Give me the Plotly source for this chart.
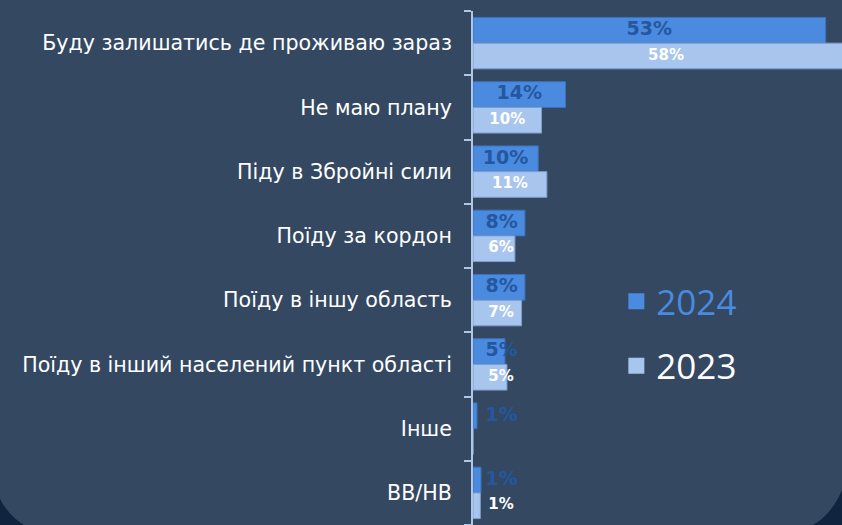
import plotly.graph_objects as go

categories = [
    "Буду залишатись де проживаю зараз",
    "Не маю плану",
    "Піду в Збройні сили",
    "Поїду за кордон",
    "Поїду в іншу область",
    "Поїду в інший населений пункт області",
    "Інше",
    "ВВ/НВ",
]
values_2024 = [53, 13.9, 9.8, 7.8, 7.8, 4.8, 0.6, 1.2]
values_2023 = [58, 10.3, 11.1, 6.3, 7.3, 5.1, 0, 1.1]
series_names = ["2024", "2023"]

W, H = 842, 525
ML, MR, MT, MB = 473, 0, 11, 0
XMAX = 55.45

BG = "#344862"
DARK = "#10233F"
C2024 = "#4A8ADF"
C2023 = "#A8C5EE"
LBL2024 = "#25579F"
AXIS = "#AFC6E6"

pos = list(range(len(categories)))

def lbl(v):
    return f"{round(v)}%" if v > 0 else ""

fig = go.Figure()
fig.add_trace(go.Bar(
    y=pos, x=values_2024, orientation="h", name=series_names[0], showlegend=False,
    marker=dict(color=C2024, line=dict(color="#3C72BD", width=1)),
    hoverinfo="skip",
))
fig.add_trace(go.Bar(
    y=pos, x=values_2023, orientation="h", name=series_names[1], showlegend=False,
    marker=dict(color=C2023, line=dict(color="#7E9DCB", width=1)),
    hoverinfo="skip",
))
# value labels
fig.add_trace(go.Scatter(
    y=[p - 0.2 for p in pos], x=[max(v / 2, 4.3) for v in values_2024],
    text=[f"<b>{lbl(v)}</b>" for v in values_2024], mode="text", showlegend=False,
    textfont=dict(family="DejaVu Sans", size=19, color=LBL2024), cliponaxis=False,
    hoverinfo="skip",
))
fig.add_trace(go.Scatter(
    y=[p + 0.2 for p in pos], x=[max(v / 2, 4.2) for v in values_2023],
    text=[f"<b>{lbl(v)}</b>" for v in values_2023], mode="text", showlegend=False,
    textfont=dict(family="DejaVu Sans", size=15, color="white"), cliponaxis=False,
    hoverinfo="skip",
))
# legend entries (square swatches matching the bar colours)
for name, col, grp in [(f"<span style='color:{C2024}'>{series_names[0]}</span>", C2024, "a"),
                       (series_names[1], C2023, "b")]:
    fig.add_trace(go.Scatter(
        x=[None], y=[None], mode="markers", name=name, legendgroup=grp,
        marker=dict(symbol="square", size=18, color=col), hoverinfo="skip",
    ))

plot_w = W - ML - MR
plot_h = H - MT - MB

def px(x):
    return (x - ML) / plot_w

def py(y):
    return (H - MB - y) / plot_h

shapes = [
    dict(type="path", xref="paper", yref="paper", layer="below",
         path=f"M {px(0)},{py(499)} Q {px(9)},{py(516)} {px(24)},{py(525)} L {px(0)},{py(525)} Z",
         fillcolor=DARK, line=dict(width=0)),
    dict(type="path", xref="paper", yref="paper", layer="below",
         path=f"M {px(842)},{py(490)} Q {px(832)},{py(514)} {px(813)},{py(525)} L {px(842)},{py(525)} Z",
         fillcolor=DARK, line=dict(width=0)),
]

fig.update_layout(
    width=W, height=H,
    margin=dict(l=ML, r=MR, t=MT, b=MB, pad=0, autoexpand=False),
    paper_bgcolor=BG, plot_bgcolor="rgba(0,0,0,0)",
    barmode="group", bargap=0.2, bargroupgap=0,
    font=dict(family="DejaVu Sans", color="white"),
    xaxis=dict(visible=False, range=[0, XMAX], fixedrange=True, automargin=False),
    yaxis=dict(
        range=[7.5, -0.5], tickmode="array", tickvals=pos, ticktext=categories,
        ticks="", showgrid=False, zeroline=False, automargin=False, fixedrange=True,
        showline=True, linecolor=AXIS, linewidth=2,
        tickfont=dict(family="DejaVu Sans", size=20.6, color="white"),
        ticklabelstandoff=15,
        minor=dict(tickmode="array", tickvals=[p - 0.5 for p in pos] + [7.5],
                   ticks="outside", ticklen=7, tickwidth=2, tickcolor=AXIS, showgrid=False),
    ),
    legend=dict(
        xref="container", yref="container", x=0.732, y=1 - 272 / H,
        xanchor="left", yanchor="top", traceorder="grouped", itemsizing="trace",
        font=dict(family="Open Sans", size=35, color="white"),
        bgcolor="rgba(0,0,0,0)", tracegroupgap=16, itemclick=False, itemdoubleclick=False,
    ),
    shapes=shapes,
    showlegend=True,
)

fig.write_html(
    "out.html",
    config={"displayModeBar": False},
    post_script="document.body.style.margin='0';document.body.style.background='" + BG + "';",
)
